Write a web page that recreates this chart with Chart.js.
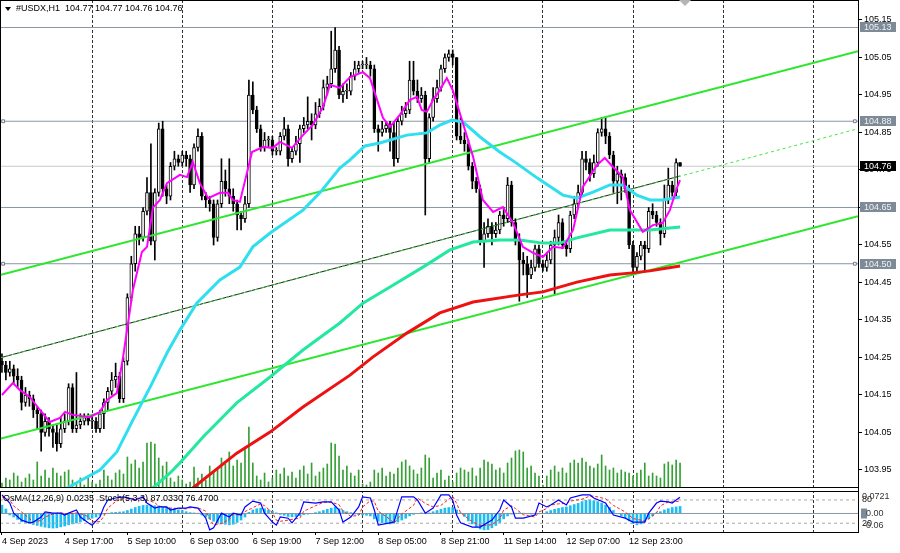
<!DOCTYPE html>
<html>
<head>
<meta charset="utf-8">
<script src="https://cdn.jsdelivr.net/npm/chart.js@4.4.0/dist/chart.umd.min.js"></script>
<style>
  html, body { margin: 0; padding: 0; background: #fff; }
  #wrap { width: 900px; height: 553px; position: relative; }
</style>
</head>
<body>
<div id="wrap"><canvas id="usdxCanvas"></canvas></div>
<script>
// #USDX H1, 4 Sep 2023 - 13 Sep 2023, one entry per hourly bar
const opens = [
  104.24,104.23,104.21,104.22,104.20,104.19,104.13,104.15,104.14,104.11,
  104.10,104.05,104.08,104.06,104.05,104.02,104.06,104.08,104.17,104.06,
  104.07,104.08,104.09,104.08,104.08,104.06,104.10,104.13,104.16,104.19,
  104.20,104.14,104.24,104.41,104.50,104.58,104.57,104.64,104.69,104.56,
  104.69,104.86,104.70,104.68,104.76,104.78,104.77,104.79,104.78,104.71,
  104.81,104.84,104.68,104.67,104.66,104.57,104.66,104.72,104.70,104.68,
  104.66,104.63,104.62,104.66,104.95,104.91,104.86,104.81,104.83,104.83,
  104.80,104.80,104.84,104.86,104.78,104.80,104.82,104.86,104.87,104.88,
  104.87,104.90,104.92,104.97,104.98,105.02,105.07,104.95,104.96,104.96,
  105.00,105.02,105.03,105.03,105.03,105.02,104.86,104.85,104.86,104.87,
  104.85,104.78,104.88,104.90,104.91,104.99,104.96,104.94,104.95,104.78,
  104.89,104.94,104.97,105.02,105.05,105.06,105.05,104.84,104.83,104.82,
  104.76,104.72,104.70,104.56,104.58,104.60,104.58,104.59,104.63,104.62,
  104.71,104.61,104.56,104.51,104.50,104.47,104.49,104.54,104.50,104.49,
  104.51,104.55,104.57,104.61,104.55,104.54,104.63,104.66,104.69,104.78,
  104.77,104.74,104.77,104.85,104.86,104.84,104.79,104.72,104.74,104.73,
  104.70,104.55,104.49,104.52,104.55,104.54,104.64,104.63,104.61,104.58,
  104.67,104.71,104.69,104.77
];
const highs = [
  104.26,104.24,104.24,104.23,104.22,104.20,104.17,104.16,104.15,104.12,
  104.11,104.10,104.09,104.07,104.07,104.09,104.10,104.18,104.18,104.21,
  104.10,104.10,104.10,104.09,104.09,104.11,104.14,104.17,104.21,104.235,
  104.21,104.25,104.42,104.52,104.60,104.60,104.65,104.73,104.82,104.70,
  104.875,104.88,104.71,104.77,104.80,104.79,104.80,104.80,104.79,104.82,
  104.86,104.85,104.69,104.68,104.67,104.67,104.78,104.75,104.78,104.70,
  104.67,104.64,104.68,104.99,104.985,104.92,104.87,104.85,104.84,104.84,
  104.81,104.85,104.89,104.87,104.81,104.84,104.87,104.89,104.945,104.90,
  104.93,104.94,104.99,105.00,105.12,105.13,105.08,104.98,104.98,105.01,
  105.04,105.04,105.04,105.05,105.04,105.03,104.87,104.88,104.88,104.88,
  104.88,104.89,104.92,104.93,105.04,105.04,104.99,104.97,104.96,104.90,
  104.97,104.99,105.03,105.06,105.07,105.07,105.05,104.89,104.85,104.83,
  104.77,104.73,104.71,104.61,104.62,104.61,104.61,104.64,104.65,104.73,
  104.72,104.62,104.58,104.53,104.52,104.51,104.55,104.55,104.51,104.53,
  104.56,104.59,104.63,104.62,104.56,104.64,104.68,104.71,104.80,104.80,
  104.78,104.79,104.86,104.89,104.89,104.85,104.80,104.76,104.75,104.74,
  104.71,104.56,104.53,104.56,104.56,104.65,104.66,104.64,104.62,104.71,
  104.755,104.72,104.78,104.77
];
const lows = [
  104.21,104.19,104.20,104.18,104.17,104.11,104.12,104.12,104.09,104.06,
  104.00,104.04,104.04,104.01,104.00,104.01,104.05,104.07,104.05,104.05,
  104.06,104.07,104.07,104.06,104.05,104.05,104.06,104.11,104.15,104.17,
  104.13,104.13,104.23,104.40,104.48,104.55,104.56,104.63,104.55,104.51,
  104.68,104.68,104.66,104.67,104.75,104.76,104.76,104.76,104.69,104.70,
  104.80,104.67,104.65,104.64,104.55,104.56,104.65,104.68,104.66,104.64,
  104.59,104.59,104.61,104.65,104.90,104.85,104.80,104.80,104.81,104.79,
  104.79,104.79,104.83,104.76,104.77,104.79,104.77,104.85,104.86,104.83,
  104.86,104.89,104.91,104.95,104.97,105.01,104.94,104.93,104.94,104.95,
  104.99,105.01,105.02,105.02,105.00,104.85,104.80,104.84,104.85,104.80,
  104.76,104.77,104.87,104.89,104.90,104.95,104.93,104.93,104.63,104.77,
  104.88,104.93,104.96,105.01,105.04,105.03,104.83,104.82,104.80,104.75,
  104.70,104.69,104.55,104.49,104.57,104.55,104.57,104.58,104.60,104.61,
  104.60,104.55,104.40,104.47,104.41,104.46,104.48,104.49,104.48,104.48,
  104.50,104.42,104.55,104.54,104.52,104.53,104.62,104.65,104.68,104.75,
  104.72,104.73,104.76,104.84,104.82,104.78,104.69,104.66,104.67,104.69,
  104.54,104.475,104.48,104.51,104.48,104.53,104.62,104.60,104.55,104.57,
  104.66,104.68,104.68,104.76
];
const closes = [
  104.23,104.21,104.22,104.20,104.19,104.13,104.15,104.14,104.11,104.10,
  104.05,104.08,104.06,104.05,104.02,104.06,104.08,104.17,104.06,104.07,
  104.08,104.09,104.08,104.08,104.06,104.10,104.13,104.16,104.19,104.20,
  104.14,104.24,104.41,104.50,104.58,104.57,104.64,104.69,104.56,104.69,
  104.86,104.70,104.68,104.76,104.78,104.77,104.79,104.78,104.71,104.81,
  104.84,104.68,104.67,104.66,104.57,104.66,104.72,104.70,104.68,104.66,
  104.63,104.62,104.66,104.95,104.91,104.86,104.81,104.83,104.83,104.80,
  104.80,104.84,104.86,104.78,104.80,104.82,104.86,104.87,104.88,104.87,
  104.90,104.92,104.97,104.98,105.02,105.07,104.95,104.96,104.96,105.00,
  105.02,105.03,105.03,105.03,105.02,104.86,104.85,104.86,104.87,104.85,
  104.78,104.88,104.90,104.91,104.99,104.96,104.94,104.95,104.78,104.89,
  104.94,104.97,105.02,105.05,105.06,105.05,104.84,104.83,104.82,104.76,
  104.72,104.70,104.56,104.58,104.60,104.58,104.59,104.63,104.62,104.71,
  104.61,104.56,104.51,104.50,104.47,104.49,104.54,104.50,104.49,104.51,
  104.55,104.57,104.61,104.55,104.54,104.63,104.66,104.69,104.78,104.77,
  104.74,104.77,104.85,104.86,104.84,104.79,104.72,104.74,104.73,104.70,
  104.55,104.49,104.52,104.55,104.54,104.64,104.63,104.61,104.58,104.67,
  104.71,104.69,104.77,104.76
];
// tick volumes
const volumes = [
  500,1000,800,1500,1200,600,1000,1400,800,2600,
  1200,1800,1000,2000,1500,1200,1600,1800,800,500,
  1000,300,1200,600,400,800,1800,1200,800,1500,
  1800,1400,3100,2400,2800,2000,2600,4500,4600,4400,
  3000,2200,2600,1000,600,1200,800,400,600,2100,
  1000,1400,800,2200,1600,2000,3000,2400,3600,2200,
  2800,2500,4100,6100,2500,1200,800,1500,600,1000,
  1800,1400,2000,1200,1600,1000,1800,2200,1400,2500,
  1200,1600,2000,2400,4500,4400,3200,1800,2200,1500,
  1200,1800,400,300,600,1800,1500,2000,1200,1600,
  1400,2000,2600,2800,2200,1800,1400,2000,3300,3000,
  1000,1500,1800,800,1200,600,1500,2000,1800,1600,
  2000,1200,2000,2800,2600,2400,1800,2000,1500,2500,
  3000,3700,3800,3600,2000,2200,1500,1200,300,1200,
  1800,2200,1600,2000,1500,2500,2800,2500,3000,2600,
  2200,2000,2400,3300,2200,1800,2000,1500,1800,1600,
  1500,1200,1500,1800,2500,1200,1500,1200,1000,2400,
  2600,2300,2800,2500
];
// moving averages as [bar, price]
const maFast = [
  [0,104.150],[2.8,104.182],[4.6,104.163],[7.1,104.145],[9.7,104.110],[12.2,104.078],[14.8,104.089],
  [16.1,104.105],[18.1,104.097],[22.4,104.091],[25,104.105],[26.8,104.137],[29.3,104.155],[30.9,104.251],
  [33.4,104.430],[35.7,104.531],[37,104.545],[38.5,104.649],[40.3,104.670],[42.1,104.715],[45.4,104.737],
  [47.2,104.731],[48.7,104.771],[50.5,104.715],[52.6,104.675],[55.6,104.689],[57.7,104.689],[58.9,104.670],
  [60.7,104.665],[63.8,104.798],[66.6,104.811],[69.1,104.809],[70.9,104.825],[74,104.809],[76.8,104.843],
  [79.3,104.870],[81.9,104.918],[83.7,104.977],[86.2,104.969],[88.8,104.998],[92.1,105.011],[93.9,104.995],
  [95.7,104.937],[97.2,104.889],[99,104.865],[101.5,104.897],[104.1,104.937],[105.9,104.945],[107.1,104.910],
  [108.4,104.905],[110,104.937],[111.7,104.963],[113.5,104.995],[115,104.963],[117.6,104.875],[120.2,104.785],
  [122.7,104.670],[125.3,104.638],[127.8,104.651],[130.4,104.609],[132.9,104.545],[135.5,104.529],[138,104.518],
  [140.6,104.545],[143.1,104.542],[145.7,104.590],[148.2,104.705],[151.8,104.763],[153.8,104.782],[155.9,104.758],
  [158.4,104.731],[160.2,104.643],[163.5,104.585],[166.1,104.603],[168.6,104.609],[170.4,104.643],[172.2,104.702],
  [173,104.723]
];
const maMid = [
  [16.6,103.902],[25,103.950],[29.3,103.998],[33.4,104.083],[37.8,104.171],[42.1,104.262],[45.4,104.323],
  [49.7,104.395],[55.6,104.457],[60.7,104.491],[64,104.545],[68.4,104.582],[76.8,104.643],[81.1,104.689],
  [86.2,104.755],[88.8,104.777],[92.6,104.814],[96.4,104.822],[103.3,104.843],[108.4,104.849],[111.7,104.870],
  [114.8,104.883],[117.6,104.878],[122,104.838],[127,104.798],[130.9,104.771],[136.5,104.729],[143.1,104.683],
  [146.7,104.675],[150.8,104.691],[155.1,104.710],[158.4,104.710],[162,104.683],[165.3,104.670],[168.6,104.670],
  [173,104.678]
];
const maSlow = [
  [38.5,103.902],[42.9,103.942],[45.4,103.969],[51.3,104.038],[59.9,104.129],[68.4,104.198],[76.8,104.270],
  [86.2,104.342],[92.1,104.395],[99,104.438],[107.4,104.491],[114.3,104.537],[120.2,104.558],[127,104.563],
  [132.1,104.563],[138,104.555],[142.3,104.555],[146.7,104.569],[155.1,104.590],[165.3,104.590],[173,104.598]
];
const maLong = [
  [48.7,103.902],[59.9,103.995],[68.4,104.051],[76.8,104.118],[88.8,104.203],[94.6,104.251],[103.3,104.315],
  [111.7,104.369],[120.2,104.398],[132.1,104.417],[138,104.425],[146.7,104.451],[155.1,104.470],[160.2,104.475],
  [165.3,104.481],[173,104.494]
];
// channel lines as [bar, price]
const channelUpper = [[-0.5,104.470],[218.4,105.067]];
const channelLower = [[-0.5,104.033],[218.4,104.627]];
const channelMid = [[-0.5,104.249],[173,104.734]];
const channelMidExt = [[-0.5,104.249],[218.4,104.860]];
// horizontal levels
const levels = [105.13, 104.88, 104.65, 104.50];
const markedLevels = [104.88, 104.50];
const lastPrice = 104.76;
const priceTicks = [103.95,104.05,104.15,104.25,104.35,104.45,104.55,104.65,104.75,104.85,104.95,105.05,105.15];
// OsMA(12,26,9)
const osma = [
  0.028,0.015,-0.005,-0.012,-0.020,-0.028,-0.030,-0.033,-0.037,-0.040,
  -0.043,-0.046,-0.048,-0.049,-0.048,-0.045,-0.042,-0.038,-0.035,-0.032,
  -0.028,-0.024,-0.020,-0.016,-0.012,-0.006,-0.002,0.001,0.003,0.004,
  0.005,0.006,0.010,0.015,0.020,0.024,0.027,0.028,0.028,0.026,
  0.025,0.022,0.020,0.018,0.016,0.012,0.010,0.006,0.003,0.002,
  0.001,-0.005,-0.012,-0.018,-0.026,-0.032,-0.034,-0.036,-0.038,-0.036,
  -0.030,-0.022,-0.012,0.004,0.012,0.016,0.018,0.016,0.012,0.008,
  0.002,-0.003,-0.006,-0.010,-0.011,-0.010,-0.007,-0.004,-0.002,0.000,
  0.003,0.006,0.010,0.014,0.018,0.022,0.016,0.010,0.006,0.003,
  -0.002,-0.004,-0.005,-0.006,-0.008,-0.018,-0.026,-0.031,-0.034,-0.035,
  -0.033,-0.028,-0.022,-0.016,-0.008,-0.003,0.000,0.002,0.001,0.002,
  0.006,0.010,0.014,0.018,0.020,0.020,0.012,0.002,-0.010,-0.025,
  -0.035,-0.045,-0.052,-0.055,-0.054,-0.048,-0.040,-0.030,-0.018,-0.008,
  -0.002,0.001,0.002,0.001,-0.001,-0.002,-0.002,-0.001,0.000,0.006,
  0.010,0.014,0.017,0.020,0.022,0.026,0.030,0.034,0.040,0.044,
  0.045,0.043,0.040,0.035,0.028,0.020,0.010,0.000,-0.008,-0.014,
  -0.025,-0.034,-0.038,-0.035,-0.028,-0.018,-0.008,0.002,0.006,0.012,
  0.016,0.020,0.022,0.0235
];
const osmaScaleLabels = [0.0721, 0.00, -0.06];
// Stochastic(5,3,3) as [bar, value]
const stochMain = [
  [0,93],[2,72],[3,46],[5,28],[7,21],[8,23],[10,36],[11,49],[13,46],[15,46],[16,41],[17,46],[19,54],[20,36],
  [22,21],[23,15],[25,36],[26,62],[27,80],[29,85],[31,88],[34,80],[36,88],[37,72],[39,59],[40,62],[42,62],
  [43,54],[45,59],[47,59],[48,62],[50,59],[52,33],[53,3],[54,8],[56,46],[58,36],[59,46],[61,41],[62,62],
  [64,77],[66,72],[67,46],[69,23],[70,15],[71,36],[73,33],[74,21],[76,46],[77,75],[80,72],[82,75],[84,75],
  [86,54],[87,23],[89,36],[91,62],[92,88],[94,85],[95,54],[96,15],[99,21],[100,23],[102,88],[105,88],[106,80],
  [108,46],[110,59],[112,93],[114,93],[115,80],[116,41],[117,21],[120,10],[122,10],[125,28],[127,54],[128,80],
  [130,62],[131,33],[133,33],[136,41],[137,72],[139,62],[140,67],[142,80],[144,67],[145,85],[148,93],[150,93],
  [151,85],[154,72],[156,41],[159,33],[161,23],[164,23],[165,46],[167,72],[168,77],[170,75],[171,72],[172,80],
  [173,87.033]
];
const stochSignal = [
  [0,88],[2,80],[3,64],[5,49],[7,32],[8,24],[10,27],[11,36],[13,44],[15,47],[16,45],[17,44],[19,47],[20,45],
  [22,37],[23,24],[25,24],[26,38],[27,59],[29,76],[31,84],[34,84],[36,85],[37,80],[39,73],[40,64],[42,61],
  [43,59],[45,58],[47,57],[48,60],[50,60],[52,51],[53,32],[54,15],[56,19],[58,30],[59,43],[61,41],[62,50],
  [64,60],[66,70],[67,65],[69,47],[70,28],[71,25],[73,28],[74,30],[76,33],[77,51],[80,65],[82,74],[84,74],
  [86,68],[87,51],[89,38],[91,40],[92,62],[94,78],[95,76],[96,51],[99,30],[100,20],[102,44],[105,66],[106,85],
  [108,71],[110,62],[112,66],[114,82],[115,89],[116,71],[117,47],[120,24],[122,14],[125,16],[127,31],[128,54],
  [130,65],[131,58],[133,42],[136,36],[137,49],[139,58],[140,67],[142,70],[144,71],[145,77],[148,82],[150,90],
  [151,90],[154,83],[156,66],[159,49],[161,32],[164,26],[165,31],[167,47],[168,65],[170,75],[171,75],[172,76],
  [173,76.47]
];
const stochLevels = [80, 20];
// time axis
const labelBars = [0,16,32,48,64,80,96,112,128,144,160];
const timeLabels = ['4 Sep 2023','4 Sep 17:00','5 Sep 10:00','6 Sep 03:00','6 Sep 19:00','7 Sep 12:00',
  '8 Sep 05:00','8 Sep 21:00','11 Sep 14:00','12 Sep 07:00','12 Sep 23:00'];
const gridBars = [23,46,69,92,115,138,161,184,207];

const X_MIN = -0.5, X_MAX = 218.4;
const FONT = '"Liberation Sans", Arial, sans-serif';

const pts = arr => arr.map(([x, y]) => ({x, y}));
const hline = v => [{x: X_MIN, y: v}, {x: 0.3, y: v}, {x: 217.6, y: v}, {x: X_MAX, y: v}];
const noPad = a => { a.paddingTop = 0; a.paddingBottom = 0; a.paddingLeft = 0; a.paddingRight = 0; };

const wickData = highs.map((h, i) => ({x: i, y: [lows[i], h]}));
const bodyData = closes.map((c, i) => ({x: i, y: [opens[i], c]}));
const bodyFill = closes.map((c, i) => (c >= opens[i] ? '#ffffff' : '#000000'));

const lineDs = (data, color, width, order, extra) => Object.assign({
  type: 'line', data: pts(data), borderColor: color, borderWidth: width,
  pointRadius: 0, tension: 0, fill: false, order: order, yAxisID: 'y'
}, extra || {});

const datasets = [
  lineDs(maFast, '#ff00ff', 2, 1),
  lineDs(maMid, '#2fdff0', 3, 2),
  lineDs(maSlow, '#22e8a0', 3, 3),
  lineDs(maLong, '#ee1111', 3, 4),
  lineDs(channelUpper, '#2ee62e', 2, 5),
  lineDs(channelLower, '#2ee62e', 2, 5),
  lineDs(channelMidExt, '#3fe83f', 1, 5.5, {borderDash: [3, 3]}),
  lineDs(channelMid, '#1a1a1a', 1, 6),
  {
    type: 'bar', data: bodyData, yAxisID: 'y', order: 8, grouped: false,
    barThickness: 3, minBarLength: 1, borderSkipped: false,
    backgroundColor: bodyFill, borderColor: '#000', borderWidth: 1
  },
  {
    type: 'bar', data: wickData, yAxisID: 'y', order: 9, grouped: false,
    barThickness: 1, backgroundColor: '#000'
  }
];
levels.forEach(v => {
  const marked = markedLevels.includes(v);
  datasets.push({
    type: 'line', data: hline(v), yAxisID: 'y', order: 10,
    borderColor: '#8a96a3', borderWidth: 1, tension: 0,
    pointStyle: 'rect',
    pointRadius: c => (marked && (c.index === 1 || c.index === 2) ? 2 : 0),
    pointBackgroundColor: '#ffffff', pointBorderColor: '#6f7b88', pointBorderWidth: 1
  });
});
datasets.push({
  type: 'line', data: hline(lastPrice), yAxisID: 'y', order: 10,
  borderColor: '#c8c8c8', borderWidth: 1, pointRadius: 0
});
datasets.push({
  type: 'bar', data: volumes.map((v, i) => ({x: i, y: v})), yAxisID: 'yv', order: 11,
  grouped: false, barThickness: 1, backgroundColor: '#35a035'
});
// indicator window
datasets.push({
  type: 'bar', data: osma.map((v, i) => ({x: i, y: v})), yAxisID: 'yo', order: 14,
  grouped: false, barThickness: 2, backgroundColor: '#1cbdf0'
});
datasets.push({
  type: 'line', data: [{x: X_MIN, y: 0}, {x: X_MAX, y: 0}], yAxisID: 'yo', order: 13,
  borderColor: '#8a96a3', borderWidth: 1, pointRadius: 0
});
stochLevels.forEach(v => datasets.push({
  type: 'line', data: [{x: X_MIN, y: v}, {x: X_MAX, y: v}], yAxisID: 'yi', order: 13,
  borderColor: '#a8a8a8', borderWidth: 1, borderDash: [3, 3], pointRadius: 0
}));
datasets.push({
  type: 'line', data: pts(stochSignal), yAxisID: 'yi', order: 7,
  borderColor: '#ff2020', borderWidth: 1, borderDash: [3, 2], pointRadius: 0, tension: 0
});
datasets.push({
  type: 'line', data: pts(stochMain), yAxisID: 'yi', order: 6,
  borderColor: '#0000ff', borderWidth: 1.2, pointRadius: 0, tension: 0
});

const overlay = {
  id: 'overlay',
  afterDatasetsDraw(chart) {
    const {ctx, chartArea: ca, scales} = chart;
    const mainBottom = scales.y.bottom;
    const indTop = scales.yi.top + 3;
    ctx.save();
    ctx.fillStyle = '#fff';
    ctx.fillRect(ca.left, mainBottom, ca.right - ca.left, indTop - mainBottom);
    ctx.strokeStyle = '#000';
    ctx.lineWidth = 1;
    ctx.beginPath();
    ctx.moveTo(ca.left, 0.5); ctx.lineTo(ca.right, 0.5);
    ctx.moveTo(ca.left, mainBottom - 0.5); ctx.lineTo(ca.right, mainBottom - 0.5);
    ctx.moveTo(ca.left, indTop + 0.5); ctx.lineTo(ca.right, indTop + 0.5);
    ctx.moveTo(ca.left + 0.5, 0); ctx.lineTo(ca.left + 0.5, mainBottom);
    ctx.moveTo(ca.left + 0.5, indTop); ctx.lineTo(ca.left + 0.5, ca.bottom);
    ctx.moveTo(ca.right + 0.5, mainBottom); ctx.lineTo(ca.right + 0.5, indTop);
    ctx.stroke();

    // symbol header
    ctx.fillStyle = '#000';
    ctx.beginPath();
    ctx.moveTo(5, 7); ctx.lineTo(11, 7); ctx.lineTo(8, 11); ctx.closePath();
    ctx.fill();
    ctx.font = '9px ' + FONT;
    ctx.textBaseline = 'middle';
    ctx.textAlign = 'left';
    const n = closes.length - 1;
    ctx.fillText('#USDX,H1  ' + [opens[n], highs[n], lows[n], closes[n]].map(v => v.toFixed(2)).join(' '), 16, 9);
    ctx.fillText('OsMA(12,26,9) ' + osma[n].toFixed(4) + '  Stoch(5,3,3) ' +
      stochMain[stochMain.length - 1][1].toFixed(4) + ' ' + stochSignal[stochSignal.length - 1][1].toFixed(4), 3, indTop + 8);

    // chart shift marker
    ctx.fillStyle = '#b4b4b4';
    ctx.beginPath();
    ctx.moveTo(679, 0); ctx.lineTo(691, 0); ctx.lineTo(685, 6); ctx.closePath();
    ctx.fill();
    ctx.restore();
  },
  afterDraw(chart) {
    const {ctx, chartArea: ca, scales} = chart;
    ctx.save();
    ctx.font = '9px ' + FONT;
    ctx.textBaseline = 'middle';
    ctx.textAlign = 'left';
    levels.forEach(v => {
      const py = Math.round(scales.y.getPixelForValue(v));
      ctx.fillStyle = '#7d8a97';
      ctx.fillRect(ca.right + 2, py - 5, 36, 10);
      ctx.fillStyle = '#f2f2f2';
      ctx.fillText(v.toFixed(2), ca.right + 6, py + 0.5);
    });
    const lp = Math.round(scales.y.getPixelForValue(lastPrice));
    ctx.fillStyle = '#000';
    ctx.fillRect(ca.right + 2, lp - 5, 36, 10);
    ctx.fillStyle = '#fff';
    ctx.fillText(lastPrice.toFixed(2), ca.right + 6, lp + 0.5);

    // OsMA scale labels
    const yo = scales.yo;
    ctx.fillStyle = '#333';
    const top = yo.getPixelForValue(osmaScaleLabels[0]);
    ctx.fillText(osmaScaleLabels[0].toFixed(4), ca.right + 4, top + 5);
    const zero = yo.getPixelForValue(osmaScaleLabels[1]);
    ctx.fillStyle = '#7d8a97';
    ctx.fillRect(ca.right + 3, zero - 5, 6, 10);
    ctx.fillStyle = '#333';
    ctx.fillText(osmaScaleLabels[1].toFixed(2), ca.right + 8, zero + 0.5);
    const bot = yo.getPixelForValue(osmaScaleLabels[2]);
    ctx.fillText(osmaScaleLabels[2].toFixed(2), ca.right + 5, bot - 6);
    ctx.restore();
  }
};

new Chart(document.getElementById('usdxCanvas'), {
  type: 'line',
  data: {datasets: datasets},
  options: {
    responsive: true,
    maintainAspectRatio: false,
    animation: false,
    events: [],
    layout: {padding: 0},
    plugins: {legend: {display: false}, tooltip: {enabled: false}, title: {display: false}},
    scales: {
      x: {
        type: 'linear', position: 'bottom', min: X_MIN, max: X_MAX, offset: false,
        afterBuildTicks: a => { a.ticks = labelBars.map(v => ({value: v})); },
        afterFit: a => { a.height = 21; noPad(a); },
        ticks: {
          autoSkip: false, maxRotation: 0, minRotation: 0, align: 'start', padding: 1,
          color: '#000', font: {family: FONT, size: 9},
          callback: v => timeLabels[labelBars.indexOf(v)]
        },
        grid: {drawOnChartArea: false, drawTicks: true, tickLength: 3, color: '#000', offset: false},
        border: {display: true, color: '#000'}
      },
      xg: {
        type: 'linear', position: 'top', min: X_MIN, max: X_MAX, offset: false,
        afterBuildTicks: a => { a.ticks = gridBars.map(v => ({value: v})); },
        afterFit: a => { a.height = 0; noPad(a); },
        ticks: {display: false},
        grid: {drawOnChartArea: true, drawTicks: false, color: '#333', lineWidth: 1, offset: false},
        border: {display: false, dash: [3, 2]}
      },
      y: {
        type: 'linear', position: 'right', stack: 'panes', stackWeight: 488, weight: 0,
        min: 103.902, max: 105.2033,
        afterBuildTicks: a => { a.ticks = priceTicks.map(v => ({value: v})); },
        afterFit: a => { a.width = 42; noPad(a); },
        ticks: {color: '#000', font: {family: FONT, size: 9}, padding: 2, callback: v => v.toFixed(2)},
        grid: {drawOnChartArea: false, drawTicks: true, tickLength: 4, color: '#000'},
        border: {display: true, color: '#000'}
      },
      yi: {
        type: 'linear', position: 'right', stack: 'panes', stackWeight: 44, weight: 1,
        min: -2.6, max: 110.8,
        afterBuildTicks: a => { a.ticks = stochLevels.map(v => ({value: v})); },
        afterFit: a => { a.width = 42; noPad(a); },
        ticks: {color: '#222', font: {family: FONT, size: 9}, padding: 4, callback: v => String(v)},
        grid: {drawOnChartArea: false, drawTicks: false},
        border: {display: true, color: '#000'}
      },
      yv: {type: 'linear', display: false, min: -4400, max: 48800},
      yo: {type: 'linear', display: false, min: -0.0621, max: 1.7232}
    }
  },
  plugins: [overlay]
});
</script>
</body>
</html>
